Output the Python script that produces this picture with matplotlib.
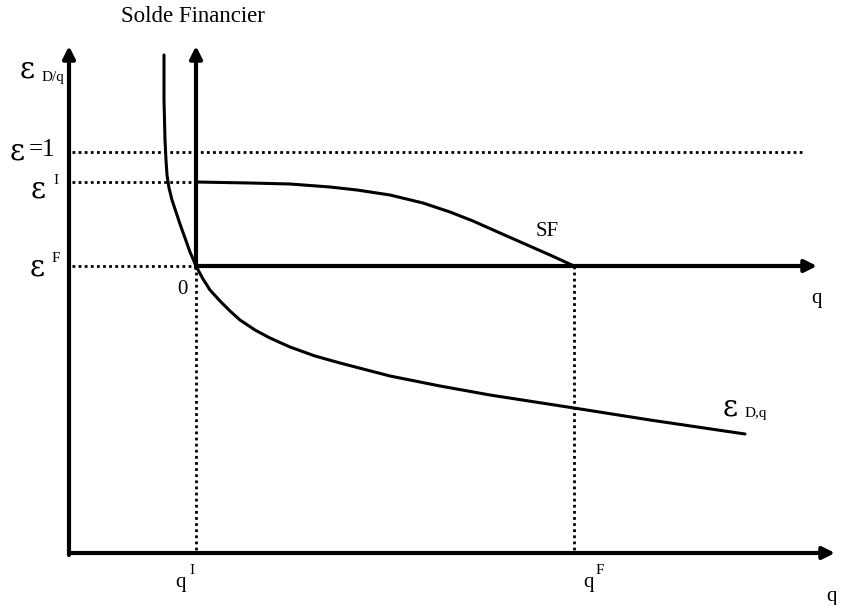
import numpy as np
import matplotlib.pyplot as plt

# coordonnées (pixels, y vers le bas)
sf_x = [196, 250, 290, 330, 357, 390, 423, 450, 473, 500, 525, 550, 574]
sf_y = [182, 183, 184, 187, 190, 195, 203, 212, 221, 233, 244, 255, 266]

ed_x = [164, 164, 165, 166, 167, 169, 172, 176, 180, 185, 190, 196, 203, 210, 220,
        230, 240, 255, 270, 290, 315, 340, 390, 440, 490, 574, 650, 745]
ed_y = [55, 100, 140, 160, 175, 188, 200, 212, 224, 238, 252, 266, 279, 290, 301,
        311, 320, 330, 338, 347, 356, 363, 376, 386, 395, 408, 420, 434]

eps_un = 152
eps_i = 182
eps_f = 266
q_i = 196
q_f = 574

fig = plt.figure(figsize=(8.41, 6.05), dpi=100)
ax = fig.add_axes([0, 0, 1, 1])
ax.set_xlim(0, 841)
ax.set_ylim(605, 0)
ax.axis('off')

serif = 'Liberation Serif'
grec = 'DejaVu Serif'


def fleche(x0, y0, x1, y1):
    ax.annotate('', xy=(x1, y1), xytext=(x0, y0),
                arrowprops=dict(arrowstyle='-|>', color='black', lw=3,
                                mutation_scale=18, shrinkA=0, shrinkB=0))


# axes principaux
fleche(69, 555, 69, 46)
fleche(69, 553, 835, 553)
# axes du solde financier
fleche(196, 268, 196, 46)
fleche(196, 266, 817, 266)

# pointillés
dot = dict(color='black', lw=2, linestyle=(0, (1, 1.2)))
ax.plot([72, 803], [eps_un, eps_un], **dot)
ax.plot([72, q_i], [eps_i, eps_i], **dot)
ax.plot([72, q_i], [eps_f, eps_f], **dot)
ax.plot([q_i, q_i], [eps_f, 553], **dot)
ax.plot([q_f, q_f], [eps_f, 553], **dot)

# courbes
ax.plot(sf_x, sf_y, color='black', lw=2.2, solid_capstyle='round', solid_joinstyle='round')
ax.plot(ed_x, ed_y, color='black', lw=2.2, solid_capstyle='round', solid_joinstyle='round')

# textes
ax.text(193, 16, 'Solde Financier', family=serif, fontsize=16.5, ha='center', va='center')

ax.text(20, 70, 'ε', family=grec, fontsize=21, ha='left', va='center')
ax.text(42, 77, 'D/q', family=serif, fontsize=11, ha='left', va='center')

ax.text(10, 151, 'ε', family=grec, fontsize=21, ha='left', va='center')
ax.text(29, 150, '=1', family=serif, fontsize=18, ha='left', va='center')

ax.text(31, 189, 'ε', family=grec, fontsize=21, ha='left', va='center')
ax.text(53, 181, 'I', family=serif, fontsize=11, ha='left', va='center')

ax.text(30, 267, 'ε', family=grec, fontsize=21, ha='left', va='center')
ax.text(52, 259, 'F', family=serif, fontsize=11, ha='left', va='center')

ax.text(182, 290, '0', family=serif, fontsize=15, ha='center', va='center')
ax.text(817, 298, 'q', family=serif, fontsize=15, ha='center', va='center')
ax.text(547, 231, 'SF', family=serif, fontsize=15, ha='center', va='center')

ax.text(723, 408, 'ε', family=grec, fontsize=21, ha='left', va='center')
ax.text(745, 414, 'D,q', family=serif, fontsize=11, ha='left', va='center')

ax.text(181, 582, 'q', family=serif, fontsize=15, ha='center', va='center')
ax.text(192, 570, 'I', family=serif, fontsize=11, ha='center', va='center')
ax.text(589, 582, 'q', family=serif, fontsize=15, ha='center', va='center')
ax.text(600, 570, 'F', family=serif, fontsize=11, ha='center', va='center')
ax.text(832, 596, 'q', family=serif, fontsize=15, ha='center', va='center')

fig.savefig('out.png', dpi=100)
